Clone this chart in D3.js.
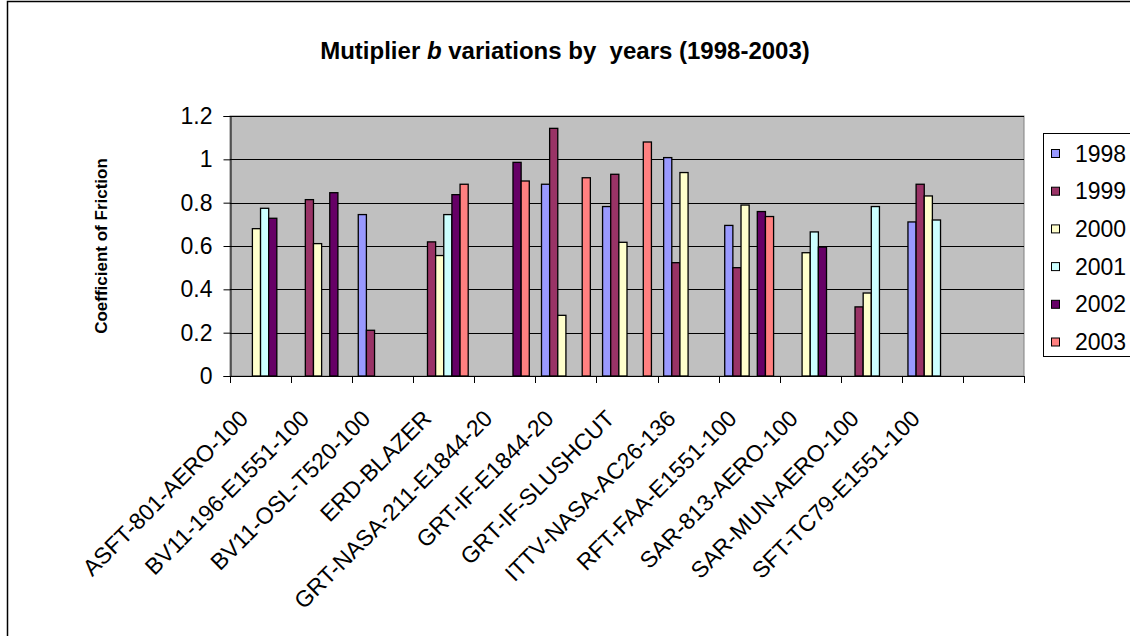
<!DOCTYPE html>
<html>
<head>
<meta charset="utf-8">
<script src="https://cdn.jsdelivr.net/npm/d3@7"></script>
<style>
  body { margin: 0; background: #fff; }
  svg { display: block; font-family: Arial, "Liberation Sans", sans-serif; }
</style>
</head>
<body>
<svg id="chart" width="1130" height="636"></svg>
<script>
// categories (last one is an empty slot, as in the original sheet)
var categories = ["ASFT-801-AERO-100", "BV11-196-E1551-100", "BV11-OSL-T520-100", "ERD-BLAZER",
  "GRT-NASA-211-E1844-20", "GRT-IF-E1844-20", "GRT-IF-SLUSHCUT", "ITTV-NASA-AC26-136",
  "RFT-FAA-E1551-100", "SAR-813-AERO-100", "SAR-MUN-AERO-100", "SFT-TC79-E1551-100", ""];
var years = ["1998", "1999", "2000", "2001", "2002", "2003"];
var colors = ["#9999FF", "#993366", "#FFFFCC", "#CCFFFF", "#660066", "#FF8080"];
var yTicks = [0, 0.2, 0.4, 0.6, 0.8, 1, 1.2];

// values per year, null = no bar
var v1998 = [null, null, 0.745, null, null, 0.885, 0.782, 1.008, 0.695, null, null, 0.711, null];
var v1999 = [null, 0.814, 0.211, 0.619, null, 1.143, 0.931, 0.523, 0.500, null, 0.319, 0.885, null];
var v2000 = [0.680, 0.611, null, 0.556, null, 0.280, 0.617, 0.939, 0.789, 0.569, 0.383, 0.831, null];
var v2001 = [0.774, null, null, 0.745, null, null, null, null, null, 0.665, 0.782, 0.720, null];
var v2002 = [0.728, 0.846, null, 0.837, 0.986, null, null, null, 0.759, 0.595, null, null, null];
var v2003 = [null, null, null, 0.885, 0.900, 0.915, 1.080, null, 0.736, null, null, null, null];
var series = [v1998, v1999, v2000, v2001, v2002, v2003];

var svg = d3.select("#chart");
var plot = {left: 230, right: 1024, top: 116, bottom: 376};
var fs = 23;

// outer chart frame (cropped on the right/bottom)
svg.append("rect").attr("x", 7.5).attr("y", 1.5).attr("width", 1200).attr("height", 700)
  .attr("fill", "none").attr("stroke", "#000").attr("stroke-width", 1.5);

var x0 = d3.scaleBand().domain(categories.map(function(d, i) { return i; }))
  .range([plot.left, plot.right]).paddingInner(0).paddingOuter(0);
// gap width 150% -> 6 bars + 1.5 bar widths per category
var bw = x0.bandwidth() / 7.5;
var y = d3.scaleLinear().domain([0, 1.2]).range([plot.bottom, plot.top]);

// plot area
svg.append("rect").attr("x", plot.left).attr("y", plot.top)
  .attr("width", plot.right - plot.left).attr("height", plot.bottom - plot.top)
  .attr("fill", "#C0C0C0").attr("stroke", "#808080").attr("stroke-width", 1);

// gridlines
svg.append("g").selectAll("line").data(yTicks.filter(function(t) { return t > 0; }))
  .enter().append("line")
  .attr("x1", plot.left).attr("x2", plot.right)
  .attr("y1", function(d) { return Math.round(y(d)) + 0.5; })
  .attr("y2", function(d) { return Math.round(y(d)) + 0.5; })
  .attr("stroke", "#000").attr("stroke-width", 1);

// bars
series.forEach(function(vals, s) {
  svg.append("g").selectAll("rect")
    .data(vals.map(function(v, i) { return {i: i, v: v}; }).filter(function(d) { return d.v != null; }))
    .enter().append("rect")
    .attr("x", function(d) { return x0(d.i) + bw * 0.75 + s * bw; })
    .attr("y", function(d) { return y(d.v); })
    .attr("width", bw)
    .attr("height", function(d) { return y(0) - y(d.v); })
    .attr("fill", colors[s])
    .attr("stroke", "#000").attr("stroke-width", 1.3);
});

// y axis
var yAxis = d3.axisLeft(y).tickValues(yTicks).tickSize(7).tickPadding(11)
  .tickFormat(function(d) { return d3.format("~g")(d); });
var gy = svg.append("g").attr("transform", "translate(" + (plot.left + 0.5) + ",0)").call(yAxis);
gy.select(".domain").attr("stroke", "#000");
gy.selectAll("line").attr("stroke", "#000");
gy.selectAll("text").attr("font-size", fs).attr("fill", "#000").attr("font-family", "Arial, 'Liberation Sans', sans-serif");

// x axis: ticks at category boundaries
var xTickPos = d3.range(categories.length + 1).map(function(i) { return plot.left + i * x0.bandwidth(); });
var gx = svg.append("g");
gx.append("line").attr("x1", plot.left).attr("x2", plot.right)
  .attr("y1", plot.bottom + 0.5).attr("y2", plot.bottom + 0.5).attr("stroke", "#000");
gx.selectAll("line.tk").data(xTickPos).enter().append("line").attr("class", "tk")
  .attr("x1", function(d) { return Math.round(d) + 0.5; }).attr("x2", function(d) { return Math.round(d) + 0.5; })
  .attr("y1", plot.bottom).attr("y2", plot.bottom + 7).attr("stroke", "#000");
gx.selectAll("text").data(categories).enter().append("text")
  .attr("transform", function(d, i) {
    var cx = x0(i) + x0.bandwidth() / 2 - 11;
    return "translate(" + cx + "," + (plot.bottom + 44) + ") rotate(-45)";
  })
  .attr("text-anchor", "end").attr("font-size", fs).attr("fill", "#000")
  .text(function(d) { return d; });

// title
var title = svg.append("text").attr("x", 565).attr("y", 59).attr("text-anchor", "middle")
  .attr("font-size", 24).attr("font-weight", "bold");
title.append("tspan").text("Mutiplier ");
title.append("tspan").attr("font-style", "italic").text("b");
title.append("tspan").attr("xml:space", "preserve").text(" variations by  years (1998-2003)");

// y axis title
svg.append("text").attr("transform", "translate(107,246) rotate(-90)")
  .attr("text-anchor", "middle").attr("font-size", 17).attr("font-weight", "bold")
  .text("Coefficient of Friction");

// legend
var lg = svg.append("g");
lg.append("rect").attr("x", 1043.5).attr("y", 133.5).attr("width", 100).attr("height", 223)
  .attr("fill", "#fff").attr("stroke", "#000");
var items = lg.selectAll("g.item").data(years).enter().append("g").attr("class", "item")
  .attr("transform", function(d, i) { return "translate(1051," + (153.5 + i * 37.7) + ")"; });
items.append("rect").attr("x", 0.5).attr("y", -4).attr("width", 8).attr("height", 8)
  .attr("fill", function(d, i) { return colors[i]; }).attr("stroke", "#000");
items.append("text").attr("x", 24).attr("y", 8).attr("font-size", fs).text(function(d) { return d; });
</script>
</body>
</html>
